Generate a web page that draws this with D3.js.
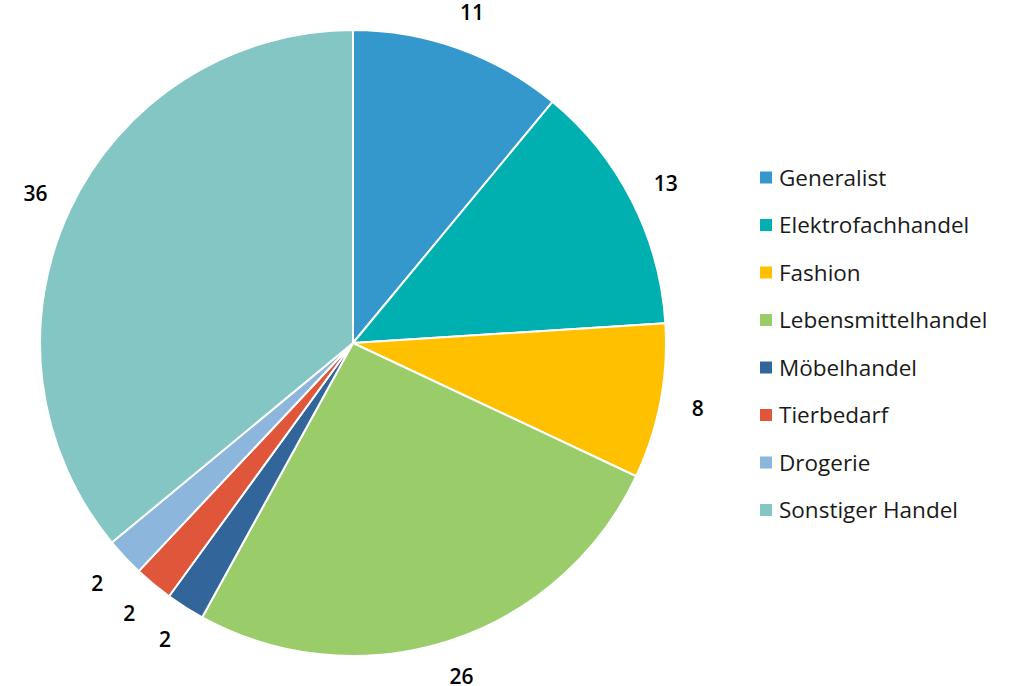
<!DOCTYPE html>
<html>
<head>
<meta charset="utf-8">
<script src="https://cdn.jsdelivr.net/npm/d3@7"></script>
<style>
  html, body { margin: 0; padding: 0; background: #fff; }
  svg { display: block; font-family: "Open Sans", "Noto Sans", sans-serif; }
</style>
</head>
<body>
<svg id="chart" width="1010" height="686"></svg>
<script>
// Anteil nach Handelsbranche (in %)
const categories = ["Generalist", "Elektrofachhandel", "Fashion", "Lebensmittelhandel",
                    "Möbelhandel", "Tierbedarf", "Drogerie", "Sonstiger Handel"];
const values = [11, 13, 8, 26, 2, 2, 2, 36];
const colors = ["#3598cc", "#00b0b0", "#ffc000", "#9bcc6a",
                "#326599", "#e0563a", "#8cb6db", "#84c6c3"];

const svg = d3.select("#chart");
const cx = 353, cy = 343, radius = 313, labelRadius = 351;

const data = categories.map((c, i) => ({ name: c, value: values[i], color: colors[i] }));

const pie = d3.pie().value(d => d.value).sort(null);
const arc = d3.arc().innerRadius(0).outerRadius(radius);
const labelArc = d3.arc().innerRadius(labelRadius).outerRadius(labelRadius);

const g = svg.append("g").attr("transform", `translate(${cx},${cy})`);
const arcs = pie(data);

g.selectAll("path.slice")
  .data(arcs)
  .join("path")
  .attr("class", "slice")
  .attr("d", arc)
  .attr("fill", d => d.data.color)
  .attr("stroke", "#fff")
  .attr("stroke-width", 2)
  .attr("stroke-linejoin", "round");

g.selectAll("text.value")
  .data(arcs)
  .join("text")
  .attr("class", "value")
  .attr("transform", d => `translate(${labelArc.centroid(d)})`)
  .attr("text-anchor", "middle")
  .attr("dy", "0.36em")
  .attr("font-size", 21)
  .attr("font-weight", 600)
  .attr("fill", "#000")
  .text(d => d.data.value);

// Legende
const legendY = d3.scalePoint().domain(categories).range([177.5, 510]);
const legend = svg.append("g").attr("transform", "translate(760,0)");
const item = legend.selectAll("g")
  .data(data)
  .join("g")
  .attr("transform", d => `translate(0,${legendY(d.name)})`);

item.append("rect")
  .attr("x", 0).attr("y", -6)
  .attr("width", 12).attr("height", 12)
  .attr("fill", d => d.color);

item.append("text")
  .attr("x", 19)
  .attr("y", 0)
  .attr("dy", "0.36em")
  .attr("font-size", 22.5)
  .attr("fill", "#1a1a1a")
  .text(d => d.name);
</script>
</body>
</html>
